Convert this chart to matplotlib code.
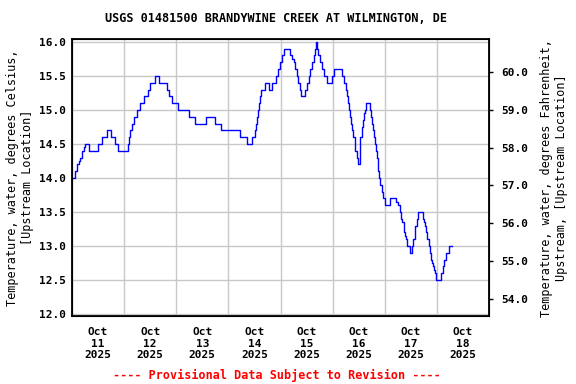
import matplotlib
matplotlib.use("Agg")
import matplotlib.pyplot as plt
import matplotlib.dates as mdates
from datetime import datetime, timedelta

# hours since 2025-10-11 00:00 where the reading changes, and the new reading (deg C)
hours = [0, 1.2, 1.5, 2.4, 3.4, 3.9, 4.4, 4.8, 5.3, 5.9, 7.8, 12.0, 13.9, 15.9, 17.9,
         19.9, 21.2, 25.6, 26.1, 26.9, 27.8, 28.7, 30.0, 31.2, 33.0, 34.9, 36.1, 38.4,
         40.1, 43.8, 44.7, 46.2, 48.6, 54.0, 56.8, 61.7, 65.7, 68.8, 77.5, 80.6, 82.9,
         84.2, 84.8, 85.1, 85.5, 86.0, 86.6, 87.2, 88.7, 90.6, 92.2, 94.1, 94.9, 95.8,
         96.6, 97.5, 100.5, 101.2, 102.2, 102.9, 103.7, 104.0, 104.8, 105.5, 107.5,
         108.3, 109.1, 109.7, 110.5, 111.2, 111.7, 112.2, 112.6, 113.4, 114.2, 114.9,
         115.8, 117.5, 119.7, 120.5, 124.3, 125.2, 126.2, 126.8, 127.1, 127.4, 128.2,
         128.6, 129.1, 129.5, 130.1, 130.5, 131.2, 131.7, 132.8, 133.5, 134.0, 134.4,
         134.9, 135.2, 137.4, 137.8, 138.3, 138.8, 139.2, 139.7, 140.1, 140.4, 140.8,
         141.1, 141.5, 142.0, 142.5, 143.1, 144.3, 146.4, 149.1, 150.1, 150.9, 151.7,
         152.1, 152.8, 153.2, 153.7, 154.1, 155.4, 156.6, 157.2, 157.7, 158.1, 158.8,
         159.5, 161.4, 162.1, 162.6, 163.1, 163.5, 164.3, 164.9, 165.2, 165.8, 166.3,
         166.8, 167.1, 167.8, 170.1, 170.6, 171.1, 171.5, 172.0, 172.4, 173.5, 174.8]
temps = [14.0, 14.05, 14.1, 14.2, 14.25, 14.3, 14.35, 14.4, 14.45, 14.5, 14.4, 14.5, 14.6,
         14.7, 14.6, 14.5, 14.4, 14.5, 14.6, 14.7, 14.8, 14.9, 15.0, 15.1, 15.2, 15.3,
         15.4, 15.5, 15.4, 15.3, 15.2, 15.1, 15.0, 14.9, 14.8, 14.9, 14.8, 14.7, 14.6,
         14.5, 14.6, 14.7, 14.8, 14.9, 15.0, 15.1, 15.2, 15.3, 15.4, 15.3, 15.4, 15.5,
         15.6, 15.7, 15.8, 15.9, 15.8, 15.75, 15.7, 15.6, 15.5, 15.4, 15.3, 15.2, 15.3,
         15.4, 15.5, 15.6, 15.7, 15.8, 15.9, 16.0, 15.9, 15.8, 15.7, 15.6, 15.5, 15.4,
         15.5, 15.6, 15.5, 15.4, 15.3, 15.2, 15.1, 15.0, 14.9, 14.8, 14.7, 14.6, 14.5,
         14.4, 14.3, 14.2, 14.6, 14.75, 14.85, 14.95, 15.0, 15.1, 15.0, 14.9, 14.8, 14.7,
         14.6, 14.5, 14.4, 14.3, 14.2, 14.1, 14.0, 13.9, 13.8, 13.7, 13.6, 13.7, 13.65,
         13.6, 13.5, 13.4, 13.35, 13.2, 13.15, 13.1, 13.0, 12.9, 13.0, 13.1, 13.2, 13.3,
         13.4, 13.5, 13.4, 13.35, 13.3, 13.2, 13.1, 13.0, 12.9, 12.8, 12.75, 12.7, 12.65,
         12.6, 12.5, 12.6, 12.7, 12.75, 12.8, 12.85, 12.9, 13.0, 13.0]

c_ticks = [12.0, 12.5, 13.0, 13.5, 14.0, 14.5, 15.0, 15.5, 16.0]
f_ticks = [54.0, 55.0, 56.0, 57.0, 58.0, 59.0, 60.0]

start = datetime(2025, 10, 11)
times = [start + timedelta(hours=h) for h in hours]

plt.rcParams['font.family'] = 'DejaVu Sans Mono'
plt.rcParams['font.weight'] = 'bold'
plt.rcParams['font.size'] = 8

fig = plt.figure(figsize=(5.76, 3.84), dpi=100)
ax = fig.add_axes([0.125, 0.177, 0.724, 0.721])

ax.plot(times, temps, color='#0000ff', lw=1.0, drawstyle='steps-post')

ax.set_xlim(start, start + timedelta(days=8))
ylo, yhi = 11.97, 16.04
ax.set_ylim(ylo, yhi)
ax.set_yticks(c_ticks)
ax.set_yticklabels(['%.1f' % v for v in c_ticks])

ax.xaxis.set_major_locator(mdates.DayLocator())
ax.xaxis.set_major_formatter(plt.NullFormatter())
ax.xaxis.set_minor_locator(mdates.HourLocator(byhour=[12]))
ax.xaxis.set_minor_formatter(mdates.DateFormatter('%b\n%d\n%Y'))
ax.tick_params(axis='x', which='both', length=0, pad=8)
ax.tick_params(axis='y', length=0, pad=4)
ax.grid(True, which='major', color='#c8c8c8', lw=1.0)
ax.set_axisbelow(True)
for s in ax.spines.values():
    s.set_linewidth(1.3)

ax.set_ylabel('Temperature, water, degrees Celsius,\n[Upstream Location]', fontsize=8.5,
              labelpad=4)

ax2 = ax.twinx()
ax2.set_ylim(ylo * 1.8 + 32, yhi * 1.8 + 32)
ax2.set_yticks(f_ticks)
ax2.set_yticklabels(['%.1f' % v for v in f_ticks])
ax2.tick_params(axis='y', length=3, width=1, direction='out', pad=6)
ax2.set_ylabel('Temperature, water, degrees Fahrenheit,\nUpstream, [Upstream Location]',
               fontsize=8.5, labelpad=8)

fig.text(0.48, 0.951, 'USGS 01481500 BRANDYWINE CREEK AT WILMINGTON, DE', ha='center',
         va='center', fontsize=8.5, weight='bold')
fig.text(0.48, 0.023, '---- Provisional Data Subject to Revision ----', ha='center',
         va='center', fontsize=8.5, weight='bold', color='red')

fig.savefig('out.png', dpi=100)
